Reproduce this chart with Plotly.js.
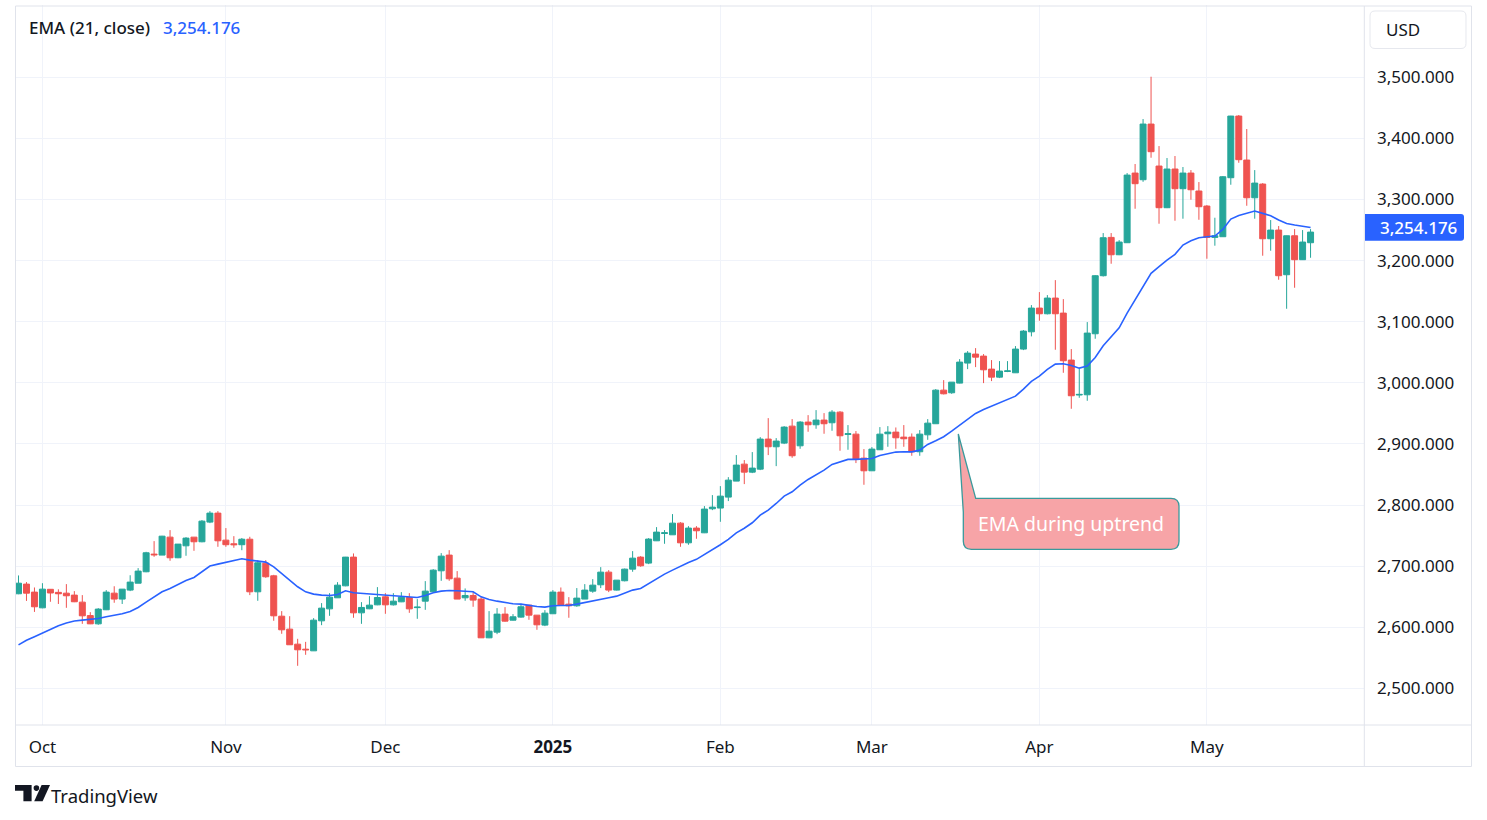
<!DOCTYPE html>
<html>
<head>
<meta charset="utf-8">
<script src="https://cdn.plot.ly/plotly-3.0.1.min.js"></script>
<style>html,body{margin:0;padding:0;background:#fff;}#chart{width:1487px;height:820px;}</style>
</head>
<body>
<div id="chart"></div>
<script>
// ---- DATA ----
const dates = [
'2024-09-26','2024-09-27','2024-09-30',
'2024-10-01','2024-10-02','2024-10-03','2024-10-04','2024-10-07','2024-10-08','2024-10-09','2024-10-10','2024-10-11','2024-10-14','2024-10-15','2024-10-16','2024-10-17','2024-10-18','2024-10-21','2024-10-22','2024-10-23','2024-10-24','2024-10-25','2024-10-28','2024-10-29','2024-10-30','2024-10-31',
'2024-11-01','2024-11-04','2024-11-05','2024-11-06','2024-11-07','2024-11-08','2024-11-11','2024-11-12','2024-11-13','2024-11-14','2024-11-15','2024-11-18','2024-11-19','2024-11-20','2024-11-21','2024-11-22','2024-11-25','2024-11-26','2024-11-27','2024-11-29',
'2024-12-02','2024-12-03','2024-12-04','2024-12-05','2024-12-06','2024-12-09','2024-12-10','2024-12-11','2024-12-12','2024-12-13','2024-12-16','2024-12-17','2024-12-18','2024-12-19','2024-12-20','2024-12-23','2024-12-24','2024-12-26','2024-12-27','2024-12-30','2024-12-31',
'2025-01-02','2025-01-03','2025-01-06','2025-01-07','2025-01-08','2025-01-09','2025-01-10','2025-01-13','2025-01-14','2025-01-15','2025-01-16','2025-01-17','2025-01-21','2025-01-22','2025-01-23','2025-01-24','2025-01-27','2025-01-28','2025-01-29','2025-01-30','2025-01-31',
'2025-02-03','2025-02-04','2025-02-05','2025-02-06','2025-02-07','2025-02-10','2025-02-11','2025-02-12','2025-02-13','2025-02-14','2025-02-18','2025-02-19','2025-02-20','2025-02-21','2025-02-24','2025-02-25','2025-02-26','2025-02-27','2025-02-28',
'2025-03-03','2025-03-04','2025-03-05','2025-03-06','2025-03-07','2025-03-10','2025-03-11','2025-03-12','2025-03-13','2025-03-14','2025-03-17','2025-03-18','2025-03-19','2025-03-20','2025-03-21','2025-03-24','2025-03-25','2025-03-26','2025-03-27','2025-03-28','2025-03-31',
'2025-04-01','2025-04-02','2025-04-03','2025-04-04','2025-04-07','2025-04-08','2025-04-09','2025-04-10','2025-04-11','2025-04-14','2025-04-15','2025-04-16','2025-04-17','2025-04-21','2025-04-22','2025-04-23','2025-04-24','2025-04-25','2025-04-28','2025-04-29','2025-04-30',
'2025-05-01','2025-05-02','2025-05-05','2025-05-06','2025-05-07','2025-05-08','2025-05-09','2025-05-12','2025-05-13','2025-05-14','2025-05-15','2025-05-16','2025-05-19','2025-05-20'
];

const opens = [2654.7,2670.5,2657.4,2631.7,2662,2657,2655.7,2652.5,2641,2619,
2605.5,2628.5,2655.7,2646,2660.7,2672,2690.7,2719.6,2718,2747.4,
2713.6,2733.2,2747.4,2739.8,2772,2786.7,2742.5,2736.5,2735,2744,
2657.9,2704.8,2684.1,2618,2596.8,2572.2,2564,2561.3,2610.4,2630,
2648.1,2667.7,2714.7,2623.5,2630.1,2636.6,2649.7,2636.6,2641.5,2648.6,
2632,2642.6,2657.9,2692.3,2718,2680.3,2648.1,2651.9,2646,2582.6,
2591.9,2621.4,2611.5,2616.5,2636.1,2619.7,2603.4,2622,2657.4,2637.7,
2635,2646,2659,2669.4,2690.1,2660.7,2676,2695,2714.7,2704.9,
2741.4,2753.4,2751.2,2770.3,2738.1,2762.2,2754.5,2793.8,2795,2812.9,
2839.1,2866.9,2853.8,2858.7,2907.9,2895.3,2901.3,2929.1,2896.9,2935.7,
2931.3,2939,2934.6,2952,2915.5,2916,2876.7,2856,2890.4,2916.6,
2919.3,2911.1,2911.1,2887.1,2914.9,2933,2988,2983.7,2999.5,3032.3,
3047,3043.7,3022.4,3009.3,3018.6,3016.4,3055.2,3083.5,3122.3,3113,
3138.7,3114.1,3037.2,2980,2980.4,3080.3,3175.3,3238,3209.6,3229.3,
3343.3,3332.4,3423.5,3354.8,3286.6,3349.9,3317.7,3343.3,3313.9,3289.3,
3238,3239.1,3335.7,3436.6,3364.6,3302.9,3325.3,3235.8,3250,3176.9,
3240.7,3201.5,3229.3];

const highs = [2684.7,2673.8,2665,2672,2662.5,2662,2670.5,2659,2652.5,2624.6,
2631.2,2660.7,2667,2662.5,2685,2696.7,2723.4,2740.9,2749.5,2758.9,
2736,2747.4,2747.4,2775.3,2790,2790,2762.2,2749,2746,2748,
2709.8,2709.8,2685.7,2626.3,2618,2581,2576,2614.8,2639.4,2655.7,
2673.7,2715,2720.7,2641,2650.8,2665.6,2655.7,2655.7,2657.4,2655.7,
2645.9,2675.4,2695,2721.2,2726.1,2691.8,2663.4,2657.4,2649.2,2626.3,
2631.2,2632.8,2621.4,2638.3,2636.1,2619.7,2627.9,2660.7,2665,2649.2,
2664,2670.5,2678.7,2698.3,2693.4,2677,2696,2724.5,2716.3,2745.8,
2763.8,2759,2785.1,2771.9,2765.4,2765.4,2798.2,2816.2,2830.9,2845.6,
2881.7,2873.5,2886.6,2911.1,2942.2,2909.5,2929.1,2940.6,2937.3,2947.1,
2955.3,2950.4,2955.3,2953.7,2930.8,2921,2891.5,2894.8,2927.5,2929.1,
2926.9,2930.8,2917.1,2922.6,2940.6,2989.7,3004.4,3001.1,3038.8,3051.9,
3056.8,3047,3037.2,3035.5,3035.5,3060.1,3086.3,3127.2,3148.5,3143.6,
3168.1,3137,3055.2,3024,3099.4,3176.3,3245.1,3245.1,3233.6,3343.3,
3358.1,3431.7,3501,3387.5,3367.9,3371.2,3353.2,3348.2,3328.6,3290.9,
3270.2,3338.4,3437,3438.3,3415.4,3348.2,3326.9,3266.4,3256.6,3241,
3251.6,3250,3251.6];

const lows = [2654,2643,2625,2631,2641.6,2638,2631.7,2641,2605.5,2605,
2604,2628,2640,2638,2659,2672,2690,2715.2,2718,2708.7,
2713,2716.9,2725,2739,2770.3,2731.6,2731.6,2730,2726,2652.5,
2643.2,2680.8,2610.5,2589.2,2571,2536.8,2554.8,2561,2603.3,2618.6,
2648,2667,2615.4,2605.5,2629.5,2636,2621.9,2635.5,2641,2623.5,
2613.7,2628.4,2657,2675.9,2675.9,2646,2643.2,2633.4,2582.6,2582,
2588.6,2609,2611,2615.4,2612.1,2595.7,2601.7,2622,2636,2615.4,
2633.4,2646,2656.3,2664,2657.4,2660,2675,2690.7,2698.9,2703.2,
2741,2736.5,2751,2731.6,2734.9,2744.7,2754,2791.6,2772.5,2806.4,
2839,2834.2,2852.2,2857.1,2881.7,2863.6,2899.7,2877.3,2892,2919.9,
2924.8,2916.6,2921.5,2888.8,2890.4,2868.6,2833.1,2856,2890,2895.3,
2892,2895.3,2880.6,2880.6,2906.7,2933,2981,2982,2999,3022.4,
3025.7,2999.5,3002.8,3007.7,3017.5,3016,3053.5,3076,3101.6,3112,
3054.1,3016.4,2957.5,2975.5,2970.6,3072.1,3174,3194.9,3209,3229,
3284.9,3329,3368.4,3260.4,3286,3265.3,3268.6,3299.7,3266.9,3203.1,
3224.4,3239,3324.2,3360.2,3289.8,3268.6,3208,3216.2,3168.7,3121.2,
3155.6,3201,3204.7];

const closes = [2672,2655.7,2633.4,2662.3,2656,2654.7,2651.4,2641.6,2618.6,2605.5,
2629.6,2657.4,2646,2662.3,2673.8,2691.8,2721.8,2718.5,2749,2713.6,
2736,2745.8,2739.8,2773.6,2786.7,2741.4,2735,2735,2744,2657.9,
2705.4,2682.5,2618.6,2595.7,2571.2,2563,2563,2611.5,2631.2,2649.2,
2668.8,2714.7,2623.5,2632.3,2636.1,2648.6,2636.6,2642.6,2649.2,2630,
2632.8,2659,2693.4,2716.3,2679.2,2646,2651.9,2644.3,2582.6,2593.5,
2621.4,2609.9,2617,2633.4,2619.7,2603.9,2623,2657.4,2636.1,2635,
2647.6,2660.7,2668.8,2690.1,2660.7,2677,2695,2713,2700.5,2744.2,
2755.6,2754.5,2770.3,2738.1,2762.2,2757.8,2793.3,2796.5,2814.5,2840.7,
2865.3,2853.8,2860.4,2907.9,2895.3,2904.6,2927.5,2880.6,2935.7,2931.3,
2939,2933,2952,2913.3,2916.6,2875.1,2856,2891.5,2916,2919.3,
2910,2908.4,2887.1,2916,2934,2988,2982,3001.1,3033.9,3048.6,
3042,3021.3,3009.3,3019.2,3019.5,3055.2,3084.6,3122.3,3113,3138.7,
3113,3036.1,2978.8,2981,3081.4,3175.3,3237.5,3209.6,3230.4,3340,
3325.9,3423.5,3378.3,3286.6,3349.9,3317.7,3343.3,3316,3288.2,3238,
3240.7,3337.3,3436.6,3365.2,3302.9,3326.9,3235.8,3250,3175.3,3240.7,
3201.5,3230.4,3246.7];

const ema21 = [2571,2578.5,2584.5,2590.5,2597,2602.5,2607,2610,2611.5,2612.5,
2614.3,2617,2619.2,2621.9,2625.7,2632.3,2641,2649.7,2657.9,2663.4,
2669.9,2676.5,2681.4,2690.7,2700,2703.2,2706,2709.5,2712,2709.8,
2708.1,2706.5,2698.8,2688,2677,2666.1,2657.9,2654.1,2652.5,2651.9,
2653.5,2659.6,2656.3,2655.2,2654.1,2653.5,2651.9,2650.8,2650.3,2648.6,
2648.6,2652,2656.3,2659,2660.1,2659.6,2659,2658,2649.7,2645.4,
2642.6,2640.5,2638.3,2637.7,2635.6,2633.9,2632.8,2635.2,2635.6,2635.6,
2637.7,2640.5,2643.2,2646.5,2648.1,2650.8,2655.2,2660.7,2663.4,2671.6,
2679.8,2686.9,2693.4,2700,2706,2711,2719,2726,2735,2743.6,
2754.5,2762,2770.9,2783.4,2791.6,2802.5,2814.5,2821.6,2832.5,2841.8,
2849.5,2857.1,2866.4,2870.2,2874.6,2874.6,2875.1,2876.2,2881.1,2884.4,
2886.6,2887.1,2887,2889.8,2899.1,2905.1,2911.7,2920.9,2930.2,2940,
2949.9,2956.4,2961.9,2966.2,2971.7,2978.2,2989.7,3002.2,3011,3021.9,
3030.6,3031.2,3028.4,3024,3027.3,3041.5,3060.6,3075.4,3090.1,3114,
3135.4,3157.2,3179.1,3190,3200.9,3210.2,3225.5,3232.6,3237.5,3239.1,
3240.2,3251.1,3268,3274,3277.3,3281.1,3277.3,3273.5,3266.4,3260.9,
3258.2,3256,3254.176];

const tickDates = ['2024-10-01','2024-11-01','2024-12-02','2025-01-02','2025-02-03','2025-03-03','2025-04-01','2025-05-01'];
const tickLabels = ['Oct','Nov','Dec','<b>2025</b>','Feb','Mar','Apr','May'];
const priceTicks = [2500,2600,2700,2800,2900,3000,3100,3200,3300,3400,3500];
const legendLabel = 'EMA (21, close)';
const currencyLabel = 'USD';
const calloutText = 'EMA during uptrend';
const brandText = 'TradingView';

// ---- LAYOUT HELPERS (pixel -> paper) ----
const PL = 15, PR = 1364, PT = 5, PB = 725;
const px = x => (x - PL) / (PR - PL);
const py = y => (PB - y) / (PB - PT);
const P = (x, y) => px(x).toFixed(5) + ',' + py(y).toFixed(5);
function roundRect(x0, y0, x1, y1, r) {
  return 'M' + P(x0 + r, y0) + ' L' + P(x1 - r, y0) + ' Q' + P(x1, y0) + ' ' + P(x1, y0 + r) +
    ' L' + P(x1, y1 - r) + ' Q' + P(x1, y1) + ' ' + P(x1 - r, y1) +
    ' L' + P(x0 + r, y1) + ' Q' + P(x0, y1) + ' ' + P(x0, y1 - r) +
    ' L' + P(x0, y0 + r) + ' Q' + P(x0, y0) + ' ' + P(x0 + r, y0) + ' Z';
}
const lastEma = ema21[ema21.length - 1];
const fmt = v => v.toLocaleString('en-US', {minimumFractionDigits: 3, maximumFractionDigits: 3});

const borderCol = '#e0e3eb';
const shapes = [
  {type:'rect', xref:'paper', yref:'paper', x0:px(15.5), x1:px(1471.5), y0:py(766.5), y1:py(6), line:{color:borderCol, width:1}, layer:'above'},
  {type:'line', xref:'paper', yref:'paper', x0:px(1364.3), x1:px(1364.3), y0:py(766.5), y1:py(6), line:{color:borderCol, width:1}, layer:'above'},
  {type:'line', xref:'paper', yref:'paper', x0:px(15.5), x1:px(1471.5), y0:py(725), y1:py(725), line:{color:borderCol, width:1}, layer:'above'},
  {type:'path', xref:'paper', yref:'paper', path:roundRect(1370, 11, 1466, 48.5, 5), fillcolor:'#ffffff', line:{color:'#e6e8ee', width:1}, layer:'above'},
  {type:'path', xref:'paper', yref:'paper',
   path:'M' + P(1365, 214) + ' L' + P(1461, 214) + ' Q' + P(1464, 214) + ' ' + P(1464, 217) + ' L' + P(1464, 237.7) + ' Q' + P(1464, 240.7) + ' ' + P(1461, 240.7) + ' L' + P(1365, 240.7) + ' Z',
   fillcolor:'#2962ff', line:{width:0}, layer:'above'},
  {type:'path', xref:'paper', yref:'paper',
   path:'M' + P(958.3, 434) + ' L' + P(975.7, 498.3) + ' L' + P(1171, 498.3) + ' Q' + P(1179, 498.3) + ' ' + P(1179, 506.3) +
     ' L' + P(1179, 541.3) + ' Q' + P(1179, 549.3) + ' ' + P(1171, 549.3) + ' L' + P(971.3, 549.3) + ' Q' + P(963.3, 549.3) + ' ' + P(963.3, 541.3) +
     ' L' + P(963.3, 512) + ' Z',
   fillcolor:'#f7a4a7', line:{color:'#3a9a9c', width:1.3}, layer:'above'},
  {type:'path', xref:'paper', yref:'paper', path:'M' + P(15, 785) + ' L' + P(31.6, 785) + ' L' + P(31.6, 801.3) + ' L' + P(23.4, 801.3) + ' L' + P(23.4, 790.8) + ' L' + P(15, 790.8) + ' Z', fillcolor:'#131722', line:{width:0}, layer:'above'},
  {type:'circle', xref:'paper', yref:'paper', x0:px(33.6), x1:px(39.2), y0:py(790.9), y1:py(785.3), fillcolor:'#131722', line:{width:0}, layer:'above'},
  {type:'path', xref:'paper', yref:'paper', path:'M' + P(41.6, 785) + ' L' + P(50, 785) + ' L' + P(42.6, 801.3) + ' L' + P(34.2, 801.3) + ' Z', fillcolor:'#131722', line:{width:0}, layer:'above'}
];

const annotations = [
  {xref:'paper', yref:'paper', x:px(26.5), y:py(27.7), xanchor:'left', yanchor:'middle', text:legendLabel, showarrow:false, font:{size:17, color:'#131722', weight:500}},
  {xref:'paper', yref:'paper', x:px(160.5), y:py(27.7), xanchor:'left', yanchor:'middle', text:fmt(lastEma), showarrow:false, font:{size:17, color:'#2962ff', weight:500}},
  {xref:'paper', yref:'paper', x:px(1384), y:py(29.5), xanchor:'left', yanchor:'middle', text:currencyLabel, showarrow:false, font:{size:17, color:'#131722'}},
  {xref:'paper', yref:'y', x:px(1377.5), y:lastEma, xanchor:'left', yanchor:'middle', text:fmt(lastEma), showarrow:false, font:{size:17, color:'#ffffff', weight:500}},
  {xref:'paper', yref:'paper', x:px(1071), y:py(523.5), xanchor:'center', yanchor:'middle', text:calloutText, showarrow:false, font:{size:19.5, color:'#ffffff'}},
  {xref:'paper', yref:'paper', x:px(48.5), y:py(795), xanchor:'left', yanchor:'middle', text:brandText, showarrow:false, font:{size:18.5, color:'#131722'}}
];

const candles = {
  type:'candlestick', x:dates, open:opens, high:highs, low:lows, close:closes,
  increasing:{line:{color:'#26a69a', width:1}, fillcolor:'#26a69a'},
  decreasing:{line:{color:'#ef5350', width:1}, fillcolor:'#ef5350'},
  whiskerwidth:0, hoverinfo:'skip', showlegend:false
};
const emaTrace = {
  type:'scatter', mode:'lines', x:dates, y:ema21,
  line:{color:'#2962ff', width:1.6, shape:'linear'}, hoverinfo:'skip', showlegend:false
};

const layout = {
  width:1487, height:820,
  margin:{l:PL, r:1487 - PR, t:PT, b:820 - PB, pad:0},
  paper_bgcolor:'#ffffff', plot_bgcolor:'#ffffff',
  font:{family:'"Noto Sans", "Open Sans", sans-serif', size:17, color:'#131722'},
  showlegend:false, hovermode:false, dragmode:false, boxgap:0.25, boxgroupgap:0,
  xaxis:{type:'category', range:[-0.44, 168.7], rangeslider:{visible:false},
    tickmode:'array', tickvals:tickDates, ticktext:tickLabels,
    showgrid:true, gridcolor:'#f0f3fa', gridwidth:1, ticks:'', showline:false, zeroline:false,
    ticklabelstandoff:10, tickfont:{size:17, color:'#131722'}, fixedrange:true},
  yaxis:{side:'right', range:[2439.9, 3618.4], tickmode:'array', tickvals:priceTicks, tickformat:',.3f',
    showgrid:true, gridcolor:'#f0f3fa', gridwidth:1, ticks:'', zeroline:false, showline:false,
    ticklabelstandoff:12, tickfont:{size:17, color:'#131722'}, fixedrange:true},
  shapes:shapes, annotations:annotations
};

Plotly.newPlot('chart', [candles, emaTrace], layout, {displayModeBar:false, staticPlot:true, responsive:false});
</script>
</body>
</html>
